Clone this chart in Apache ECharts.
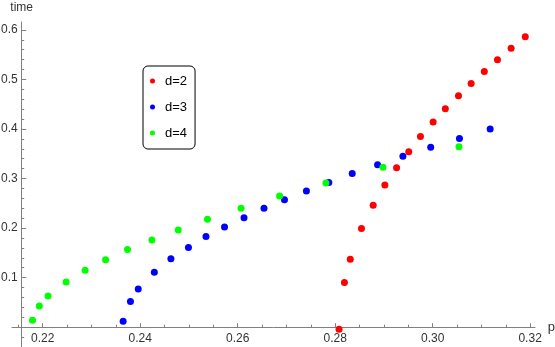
<!DOCTYPE html>
<html>
<head>
<meta charset="utf-8">
<script src="https://cdn.jsdelivr.net/npm/echarts@6/dist/echarts.min.js"></script>
<style>
  html, body { margin: 0; padding: 0; background: #fff; }
  #chart { width: 555px; height: 347px; }
</style>
</head>
<body>
<div id="chart"></div>
<script>
// d=2
let p2 = [0.2808, 0.2819, 0.2831, 0.2854, 0.2878, 0.2902, 0.2926, 0.2951, 0.2975, 0.3001, 0.3026, 0.3053, 0.3079, 0.3106, 0.3133, 0.3161, 0.3190]
let t2 = [-0.004, 0.090, 0.137, 0.199, 0.246, 0.287, 0.322, 0.354, 0.385, 0.414, 0.441, 0.467, 0.492, 0.516, 0.540, 0.563, 0.586]
// d=3
let p3 = [0.2365, 0.2380, 0.2396, 0.2429, 0.2463, 0.2499, 0.2535, 0.2573, 0.2613, 0.2654, 0.2696, 0.2741, 0.2787, 0.2835, 0.2887, 0.2939, 0.2996, 0.3055, 0.3118]
let t3 = [0.012, 0.052, 0.077, 0.111, 0.138, 0.161, 0.183, 0.202, 0.221, 0.240, 0.257, 0.275, 0.292, 0.310, 0.328, 0.345, 0.363, 0.381, 0.400]
// d=4
let p4 = [0.2179, 0.2193, 0.2211, 0.2248, 0.2287, 0.2329, 0.2374, 0.2424, 0.2478, 0.2538, 0.2607, 0.2686, 0.2781, 0.2898, 0.3054]
let t4 = [0.014, 0.043, 0.063, 0.091, 0.115, 0.136, 0.157, 0.176, 0.196, 0.218, 0.240, 0.265, 0.291, 0.323, 0.364]

let names = ['d=2', 'd=3', 'd=4']
let colors = ['#ff0000', '#0000ff', '#00ff00']

// tick positions
let xMajor = [0.22, 0.24, 0.26, 0.28, 0.30, 0.32]
let xMinor = [0.215, 0.225, 0.23, 0.235, 0.245, 0.25, 0.255, 0.265, 0.27, 0.275, 0.285, 0.29, 0.295, 0.305, 0.31, 0.315]
let yMajor = [0.1, 0.2, 0.3, 0.4, 0.5, 0.6]
let yMinor = [-0.02, 0.02, 0.04, 0.06, 0.08, 0.12, 0.14, 0.16, 0.18, 0.22, 0.24, 0.26, 0.28,
              0.32, 0.34, 0.36, 0.38, 0.42, 0.44, 0.46, 0.48, 0.52, 0.54, 0.56, 0.58]

let xMin = 0.2137, xMax = 0.321
let yMin = -0.04, yMax = 0.616

let font = 'Liberation Sans, Arial, sans-serif'
let lineColor = '#808080'
let textColor = '#333'

function zip(xs, ys) {
    return xs.map((x, i) => [x, ys[i]])
}

let mychart = echarts.init(document.getElementById('chart'), null, { renderer: 'canvas' })
mychart.setOption({
    animation: false,
    backgroundColor: '#fff',
    textStyle: { fontFamily: font },
    grid: {
        left: 12,
        right: 20,
        top: 22,
        bottom: 0,
        containLabel: false,
        outerBoundsMode: 'none'
    },
    legend: {
        orient: 'vertical',
        left: 143,
        top: 66,
        data: names,
        icon: 'circle',
        itemWidth: 5,
        itemHeight: 5,
        itemGap: 12,
        padding: [8, 8, 9, 7],
        borderColor: '#000',
        borderWidth: 1,
        borderRadius: 5,
        textStyle: {
            color: '#000',
            fontSize: 13,
            lineHeight: 14,
            padding: [0, 0, 0, 5],
            fontFamily: font
        }
    },
    xAxis: [{
        type: 'value',
        min: xMin,
        max: xMax,
        name: 'p',
        nameLocation: 'end',
        nameGap: 12,
        nameTextStyle: { color: textColor, fontSize: 13, fontFamily: font },
        axisLine: { show: true, onZero: true, lineStyle: { color: lineColor, width: 1 } },
        axisTick: { show: true, inside: true, length: 4, customValues: xMajor, lineStyle: { color: lineColor } },
        axisLabel: {
            // labels of an on-zero axis sit at the grid edge, pull them back up
            show: true, margin: -14.8, color: textColor, fontSize: 12, fontFamily: font,
            customValues: xMajor,
            formatter: v => v.toFixed(2)
        },
        splitLine: { show: false }
    }, {
        // minor ticks only
        type: 'value',
        position: 'bottom',
        min: xMin,
        max: xMax,
        axisLine: { show: false, onZero: true, onZeroAxisIndex: 0 },
        axisTick: { show: true, inside: true, length: 2.5, customValues: xMinor, lineStyle: { color: lineColor } },
        axisLabel: { show: false },
        splitLine: { show: false }
    }],
    yAxis: [{
        type: 'value',
        position: 'left',
        offset: -9.7,
        min: yMin,
        max: yMax,
        name: 'time',
        nameLocation: 'end',
        nameGap: 8,
        nameTextStyle: { color: textColor, fontSize: 12, fontFamily: font },
        axisLine: { show: true, onZero: false, lineStyle: { color: lineColor, width: 1 } },
        axisTick: { show: true, inside: true, length: 4.5, customValues: yMajor, lineStyle: { color: lineColor } },
        axisLabel: {
            show: true, margin: 4, color: textColor, fontSize: 12, fontFamily: font,
            customValues: yMajor,
            formatter: v => v.toFixed(1)
        },
        splitLine: { show: false }
    }, {
        type: 'value',
        position: 'left',
        offset: -9.7,
        min: yMin,
        max: yMax,
        axisLine: { show: false, onZero: false },
        axisTick: { show: true, inside: true, length: 2.5, customValues: yMinor, lineStyle: { color: lineColor } },
        axisLabel: { show: false },
        splitLine: { show: false }
    }],
    series: [
        { name: names[0], type: 'scatter', data: zip(p2, t2) },
        { name: names[1], type: 'scatter', data: zip(p3, t3) },
        { name: names[2], type: 'scatter', data: zip(p4, t4) }
    ].map((s, i) => Object.assign(s, {
        xAxisIndex: 0,
        yAxisIndex: 0,
        symbol: 'circle',
        symbolSize: 7,
        clip: false,
        itemStyle: { color: colors[i], opacity: 1 },
        emphasis: { disabled: true }
    }))
})
</script>
</body>
</html>
